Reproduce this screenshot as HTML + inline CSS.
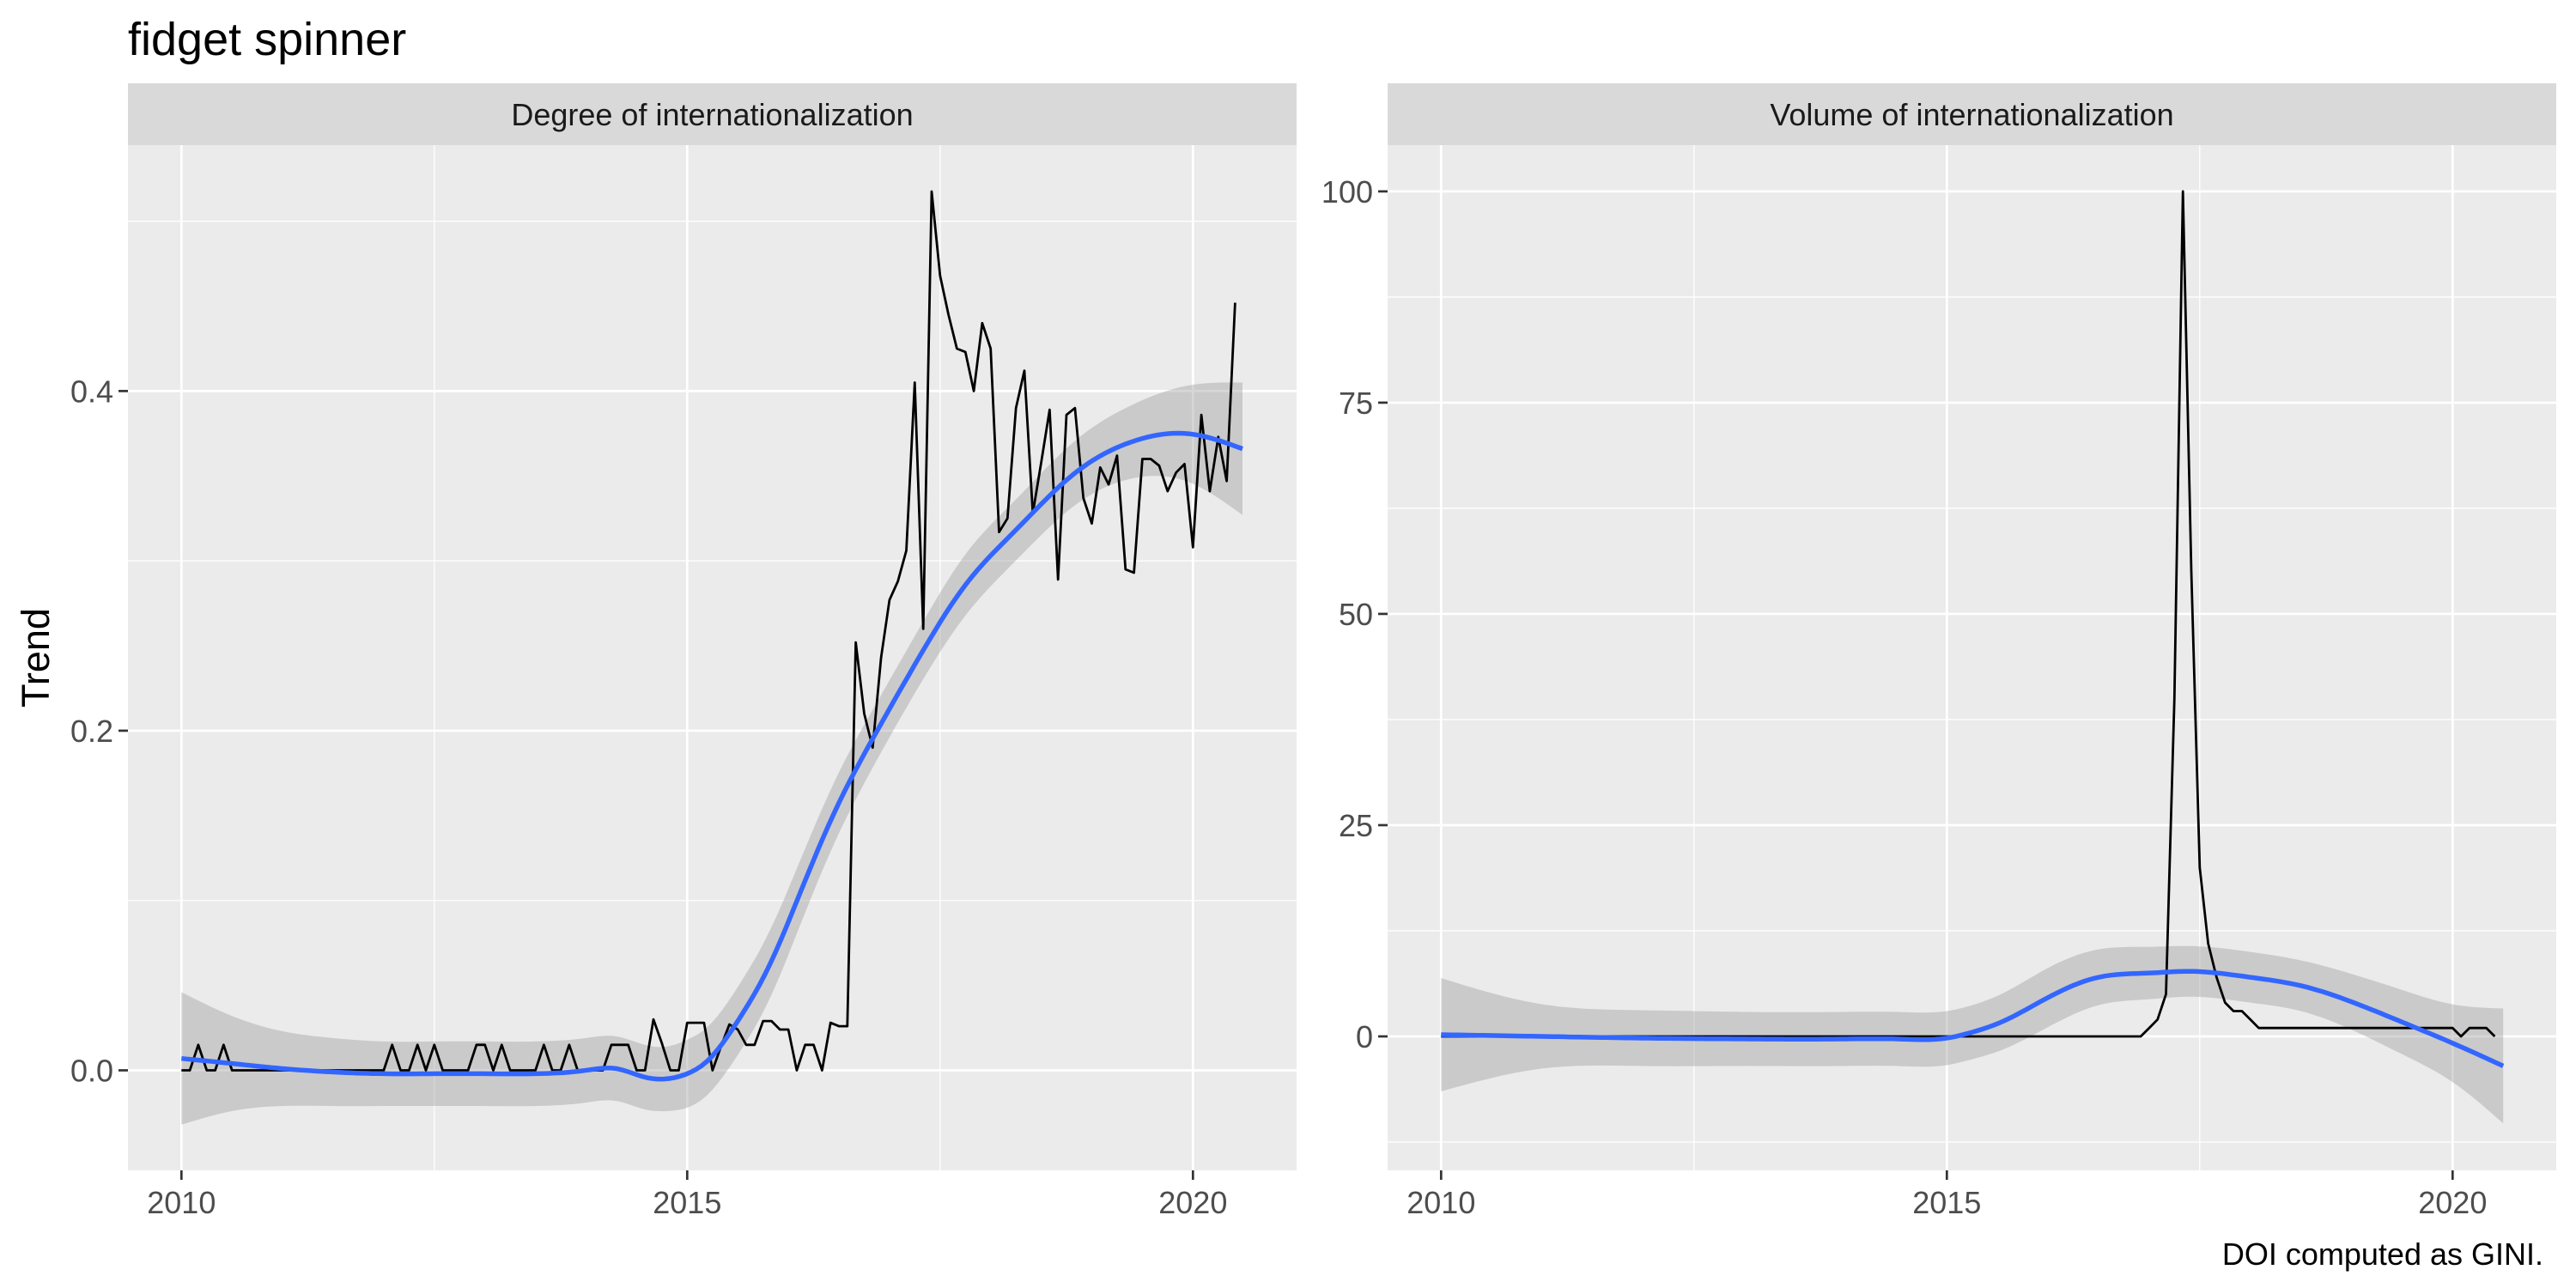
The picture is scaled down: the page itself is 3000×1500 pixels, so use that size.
<!DOCTYPE html>
<html><head><meta charset="utf-8"><style>
html,body{margin:0;padding:0;background:#fff;}
svg{display:block;font-family:"Liberation Sans",Arial,sans-serif;}
</style></head><body>
<svg id="chart" width="3000" height="1500" viewBox="0 0 3000 1500" xmlns="http://www.w3.org/2000/svg">
<rect width="3000" height="1500" fill="#fff"/>
<text x="149" y="64" font-size="54" fill="#000">fidget spinner</text>
<text transform="translate(57,766) rotate(-90)" text-anchor="middle" font-size="45" fill="#000">Trend</text>
<text x="2962" y="1473" text-anchor="end" font-size="36" fill="#000">DOI computed as GINI.</text>
<g id="left"></g>
<g id="right"></g>
</svg>
<script>
// monthly series, Jan 2010 .. Jul 2020 (127 points)
const degreeValues = [0,0,0.015,0,0,0.015,0,0,0,0, 0,0,0,0,0,0,0,0,0,0, 0,0,0,0,0,0.015,0,0,0.015,0, 0.015,0,0,0,0,0.015,0.015,0,0.015,0, 0,0,0,0.015,0,0,0.015,0,0,0, 0,0.015,0.015,0.015,0,0,0.03,0.016,0,0, 0.028,0.028,0.028,0,0.014,0.027,0.024,0.015,0.015,0.029, 0.029,0.024,0.024,0,0.015,0.015,0,0.028,0.026,0.026, 0.252,0.21,0.19,0.243,0.277,0.288,0.306,0.405,0.26,0.5175, 0.468,0.445,0.425,0.423,0.40,0.44,0.425,0.317,0.325,0.39, 0.412,0.328,0.358,0.389,0.289,0.386,0.39,0.337,0.322,0.355, 0.345,0.362,0.295,0.293,0.36,0.36,0.356,0.341,0.352,0.357, 0.308,0.386,0.341,0.373,0.347,0.452];
const volumeValues = [0,0,0,0,0,0,0,0,0,0, 0,0,0,0,0,0,0,0,0,0, 0,0,0,0,0,0,0,0,0,0, 0,0,0,0,0,0,0,0,0,0, 0,0,0,0,0,0,0,0,0,0, 0,0,0,0,0,0,0,0,0,0, 0,0,0,0,0,0,0,0,0,0, 0,0,0,0,0,0,0,0,0,0, 0,0,0,0,1,2,5,40,100,55, 20,11,7,4,3,3,2,1,1,1, 1,1,1,1,1,1,1,1,1,1, 1,1,1,1,1,1,1,1,1,1, 1,0,1,1,1,0];
const degreeFitYears = [2010,2010.5,2011,2011.5,2012,2012.5,2013,2013.5,2014,2014.3,2014.58,2014.8,2015,2015.19,2015.51,2015.79,2016.12,2016.48,2016.85,2017.34,2017.74,2018.23,2018.84,2019.44,2019.93,2020.49];
const degreeFit = [0.007,0.004,0.001,-0.001,-0.002,-0.002,-0.002,-0.002,0.0,0.001,-0.004,-0.005,-0.002,0.005,0.03,0.059,0.105,0.155,0.197,0.248,0.285,0.317,0.352,0.371,0.375,0.366];
const degreeSe = [0.039,0.028,0.022,0.02,0.019,0.019,0.019,0.019,0.019,0.019,0.019,0.019,0.02,0.02,0.02,0.02,0.019,0.018,0.017,0.017,0.018,0.018,0.019,0.022,0.028,0.039];
const volumeFitYears = [2010,2011,2012,2013,2014,2014.5,2015,2015.25,2015.5,2016,2016.5,2017,2017.4,2018,2018.5,2019,2019.5,2020,2020.5];
const volumeFit = [0.2,0.0,-0.2,-0.3,-0.3,-0.3,-0.2,0.5,1.5,4.6,7.0,7.5,7.7,7.0,6.0,4.1,1.7,-0.8,-3.5];
const volumeSe = [6.7,3.8,3.3,3.2,3.2,3.2,3.2,3.2,3.3,3.5,3.3,3.1,3.0,3.0,3.0,3.3,3.8,4.6,6.8];
const degreeTicks = [0,0.2,0.4];
const degreeTickLabels = ["0.0","0.2","0.4"];
const degreeMinor = [0.1,0.3,0.5];
const volumeTicks = [0,25,50,75,100];
const volumeTickLabels = ["0","25","50","75","100"];
const volumeMinor = [-12.5,12.5,37.5,62.5,87.5];
const xTicks = [2010,2015,2020];
const xTickLabels = ["2010","2015","2020"];
const xMinor = [2012.5,2017.5];

const NS = "http://www.w3.org/2000/svg";
function mk(tag, attrs, parent){const e=document.createElementNS(NS,tag);for(const k in attrs)e.setAttribute(k,attrs[k]);parent.appendChild(e);return e;}

function spline(xs, ys){
  const n=xs.length, h=[], a=[], l=[1], mu=[0], z=[0], c=new Array(n).fill(0), b=[], d=[];
  for(let i=0;i<n-1;i++)h.push(xs[i+1]-xs[i]);
  for(let i=1;i<n-1;i++)a[i]=3/h[i]*(ys[i+1]-ys[i])-3/h[i-1]*(ys[i]-ys[i-1]);
  for(let i=1;i<n-1;i++){l[i]=2*(xs[i+1]-xs[i-1])-h[i-1]*mu[i-1];mu[i]=h[i]/l[i];z[i]=(a[i]-h[i-1]*z[i-1])/l[i];}
  l[n-1]=1;z[n-1]=0;
  for(let j=n-2;j>=0;j--){c[j]=z[j]-mu[j]*c[j+1];b[j]=(ys[j+1]-ys[j])/h[j]-h[j]*(c[j+1]+2*c[j])/3;d[j]=(c[j+1]-c[j])/(3*h[j]);}
  return function(x){let i=0;while(i<n-2&&x>xs[i+1])i++;const t=x-xs[i];return ys[i]+b[i]*t+c[i]*t*t+d[i]*t*t*t;};
}

function panel(g, px0, opts){
  const PW=1361, top=169, bot=1363;
  const xs = yr => px0 + 62.3 + (yr-2010)*117.8;
  const ys = opts.y;
  const bg=mk('rect',{x:px0,y:top,width:PW,height:bot-top,fill:'#EBEBEB'},g);
  
  
  const st=mk('rect',{x:px0,y:97,width:PW,height:72,fill:'#D9D9D9'},g);
  
  
  const stt=mk('text',{x:px0+PW/2,y:146,'text-anchor':'middle','font-size':36,fill:'#1A1A1A'},g);
  stt.textContent=opts.strip;
  
  
  opts.minor.forEach(v=>{const e=mk('line',{x1:px0,x2:px0+PW,y1:ys(v),y2:ys(v),stroke:'#fff','stroke-width':1.3},g);
    
    });
  xMinor.forEach(v=>{const e=mk('line',{x1:xs(v),x2:xs(v),y1:top,y2:bot,stroke:'#fff','stroke-width':1.3},g);
    
    });
  opts.ticks.forEach((v,i)=>{
    const e=mk('line',{x1:px0,x2:px0+PW,y1:ys(v),y2:ys(v),stroke:'#fff','stroke-width':2.7},g);
    
    
    const t=mk('line',{x1:px0-11,x2:px0,y1:ys(v),y2:ys(v),stroke:'#333','stroke-width':2.7},g);
    
    
    const lb=mk('text',{x:px0-17,y:ys(v)+13,'text-anchor':'end','font-size':36,fill:'#4D4D4D'},g);
    lb.textContent=opts.labels[i];
    
    
  });
  xTicks.forEach((v,i)=>{
    const e=mk('line',{x1:xs(v),x2:xs(v),y1:top,y2:bot,stroke:'#fff','stroke-width':2.7},g);
    
    
    const t=mk('line',{x1:xs(v),x2:xs(v),y1:bot,y2:bot+11,stroke:'#333','stroke-width':2.7},g);
    
    
    const lb=mk('text',{x:xs(v),y:1413,'text-anchor':'middle','font-size':36,fill:'#4D4D4D'},g);
    lb.textContent=xTickLabels[i];
    
    
  });
  const fFit=spline(opts.fitYears,opts.fit), fSe=spline(opts.fitYears,opts.se);
  const y0=opts.fitYears[0], y1=opts.fitYears[opts.fitYears.length-1];
  const up=[],lo=[],mid=[];
  for(let k=0;k<=200;k++){const yr=y0+(y1-y0)*k/200;const f=fFit(yr),s=fSe(yr);
    up.push(xs(yr).toFixed(1)+','+ys(f+s).toFixed(1));lo.push(xs(yr).toFixed(1)+','+ys(f-s).toFixed(1));mid.push(xs(yr).toFixed(1)+','+ys(f).toFixed(1));}
  const rb=mk('polygon',{points:up.concat(lo.reverse()).join(' '),fill:'#999999','fill-opacity':0.4},g);
  
  
  const pts=opts.values.map((v,i)=>xs(2010+i/12).toFixed(1)+','+ys(v).toFixed(1)).join(' ');
  const ln=mk('polyline',{points:pts,fill:'none',stroke:'#000','stroke-width':2.8,'stroke-linejoin':'round'},g);
  
  
  const sm=mk('polyline',{points:mid.join(' '),fill:'none',stroke:'#3366FF','stroke-width':5.5},g);
  
  
}
panel(document.getElementById('left'),149,{strip:'Degree of internationalization',y:v=>1246.5-v*1977.75,ticks:degreeTicks,labels:degreeTickLabels,minor:degreeMinor,values:degreeValues,fitYears:degreeFitYears,fit:degreeFit,se:degreeSe});
panel(document.getElementById('right'),1616,{strip:'Volume of internationalization',y:v=>1207-v*9.841,ticks:volumeTicks,labels:volumeTickLabels,minor:volumeMinor,values:volumeValues,fitYears:volumeFitYears,fit:volumeFit,se:volumeSe});
</script>
</body></html>
